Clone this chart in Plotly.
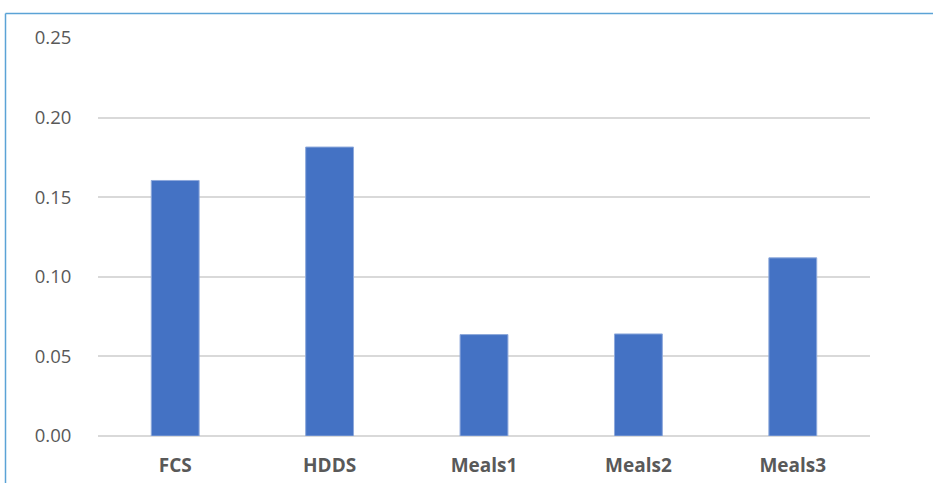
import plotly.graph_objects as go

categories = ["FCS", "HDDS", "Meals1", "Meals2", "Meals3"]
values = [0.1605, 0.1815, 0.0637, 0.0641, 0.1119]
y_ticks = [0.00, 0.05, 0.10, 0.15, 0.20, 0.25]
y_tick_labels = ["0.00", "0.05", "0.10", "0.15", "0.20", "0.25"]

W, H = 933, 483
ml, mr, mt, mb = 98, 63, 38, 47

fig = go.Figure(go.Bar(
    x=categories, y=values,
    marker=dict(color="#4472C4", line=dict(color="#8EA9DB", width=1)),
))

pw = W - ml - mr
ph = H - mt - mb
def px2paper_x(px):
    return (px - ml) / pw
def px2paper_y(py):
    return (H - mb - py) / ph

fig.update_layout(
    width=W, height=H,
    margin=dict(l=ml, r=mr, t=mt, b=mb),
    plot_bgcolor="white", paper_bgcolor="white",
    bargap=0.69,
    showlegend=False,
    font=dict(family="Open Sans", color="#595959"),
    xaxis=dict(
        tickfont=dict(size=19, family="Open Sans", color="#595959", weight="bold"),
        showgrid=False, showline=False, automargin=False,
        ticks="outside", ticklen=12, tickcolor="rgba(0,0,0,0)",
    ),
    yaxis=dict(
        range=[0, 0.25], tickvals=y_ticks, ticktext=y_tick_labels,
        tickfont=dict(size=18.5, family="Open Sans", color="#595959"),
        showgrid=True, gridcolor="#D9D9D9", gridwidth=1.5,
        zeroline=True, zerolinecolor="#D9D9D9", zerolinewidth=1.5,
        ticks="outside", ticklen=22, tickcolor="rgba(0,0,0,0)",
        showline=False, automargin=False,
    ),
    shapes=[
        dict(type="line", xref="paper", yref="paper",
             x0=px2paper_x(5.5), x1=px2paper_x(W + 5), y0=px2paper_y(13.5), y1=px2paper_y(13.5),
             line=dict(color="#5BA3D6", width=1.5)),
        dict(type="line", xref="paper", yref="paper",
             x0=px2paper_x(5.5), x1=px2paper_x(5.5), y0=px2paper_y(13.5), y1=px2paper_y(H + 5),
             line=dict(color="#5BA3D6", width=1.5)),
    ],
)

fig.write_html("out.html")
